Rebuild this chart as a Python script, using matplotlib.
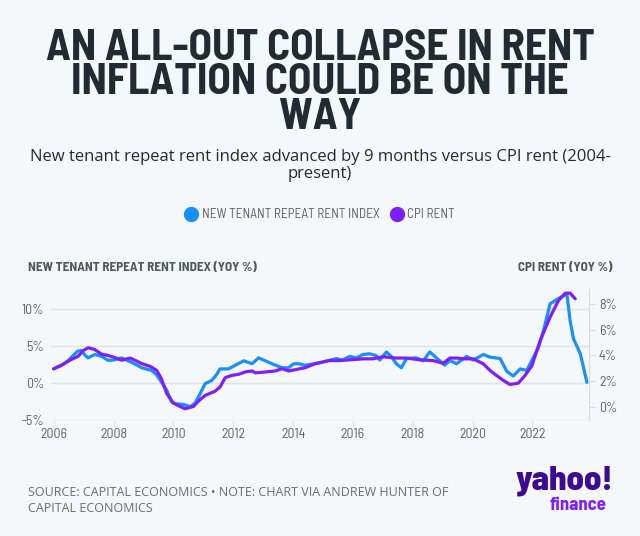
import matplotlib
matplotlib.use("Agg")
import matplotlib.pyplot as plt
from matplotlib.lines import Line2D

# new tenant repeat rent index, yoy % (left axis), advanced 9 months
ntrr_x = [2006.0, 2006.26, 2006.48, 2006.65, 2006.8, 2006.93, 2007.06, 2007.15, 2007.37, 2007.6,
          2007.82, 2008.0, 2008.27, 2008.6, 2008.94, 2009.27, 2009.44, 2009.6, 2009.78, 2009.94,
          2010.06, 2010.34, 2010.56, 2010.73, 2010.9, 2011.06, 2011.28, 2011.42, 2011.56, 2011.84,
          2012.07, 2012.35, 2012.63, 2012.85, 2013.07, 2013.35, 2013.63, 2013.85, 2014.02, 2014.2,
          2014.4, 2014.7, 2014.97, 2015.2, 2015.44, 2015.66, 2015.89, 2016.11, 2016.34, 2016.56,
          2016.78, 2016.9, 2017.12, 2017.28, 2017.45, 2017.62, 2017.79, 2018.12, 2018.35, 2018.57,
          2018.79, 2019.07, 2019.24, 2019.46, 2019.8, 2020.02, 2020.36, 2020.58, 2020.92, 2021.14,
          2021.36, 2021.59, 2021.81, 2021.98, 2022.2, 2022.37, 2022.59, 2022.82, 2023.04, 2023.15,
          2023.26, 2023.37, 2023.6, 2023.82]
ntrr_y = [1.9, 2.4, 3.0, 3.7, 4.3, 4.4, 3.7, 3.4, 3.85, 3.6,
          3.05, 3.1, 3.4, 2.8, 2.06, 1.7, 1.1, 0.13, -1.0, -2.55,
          -2.8, -2.9, -3.2, -2.7, -1.4, -0.1, 0.35, 1.0, 1.9, 1.9,
          2.4, 3.0, 2.6, 3.4, 3.0, 2.5, 2.06, 2.06, 2.6, 2.6,
          2.4, 2.6, 2.8, 3.05, 3.3, 3.1, 3.6, 3.4, 3.85, 3.95,
          3.7, 3.1, 4.2, 3.6, 2.6, 2.06, 3.3, 3.4, 3.0, 4.2,
          3.4, 2.4, 3.05, 2.6, 3.6, 3.1, 3.85, 3.5, 3.3, 1.6,
          0.94, 1.9, 1.7, 3.05, 4.8, 7.1, 10.7, 11.3, 11.8, 12.0,
          8.4, 6.0, 3.95, 0.1]

# CPI rent, yoy % (right axis)
cpi_x = [2006.0, 2006.26, 2006.54, 2006.82, 2006.98, 2007.15, 2007.37, 2007.6, 2007.82, 2008.04,
         2008.27, 2008.55, 2008.72, 2008.94, 2009.22, 2009.44, 2009.6, 2009.78, 2010.0, 2010.22,
         2010.39, 2010.67, 2010.84, 2011.06, 2011.4, 2011.56, 2011.73, 2011.96, 2012.18, 2012.4,
         2012.63, 2012.74, 2013.07, 2013.41, 2013.63, 2013.85, 2014.08, 2014.41, 2014.75, 2015.2,
         2015.55, 2015.89, 2016.34, 2016.67, 2017.0, 2017.45, 2017.79, 2018.23, 2018.68, 2019.02,
         2019.24, 2019.46, 2019.69, 2020.02, 2020.36, 2020.58, 2020.8, 2021.03, 2021.25, 2021.53,
         2021.75, 2021.98, 2022.26, 2022.59, 2022.87, 2023.1, 2023.26, 2023.43]
cpi_y = [2.97, 3.24, 3.63, 3.94, 4.36, 4.6, 4.46, 4.1, 4.0, 3.84,
         3.63, 3.8, 3.63, 3.37, 3.16, 2.85, 2.2, 1.04, 0.31, 0.05,
         -0.13, 0.05, 0.47, 0.9, 1.24, 1.56, 2.28, 2.46, 2.54, 2.72,
         2.8, 2.65, 2.72, 2.8, 2.98, 2.8, 2.9, 3.06, 3.37, 3.6,
         3.6, 3.66, 3.74, 3.74, 3.9, 3.8, 3.8, 3.66, 3.6, 3.4,
         3.8, 3.8, 3.74, 3.74, 3.35, 2.84, 2.45, 2.06, 1.75, 1.86,
         2.45, 3.2, 5.16, 6.97, 8.26, 8.83, 8.83, 8.39]

left_ticks = [-5, 0, 5, 10]
right_ticks = [0, 2, 4, 6, 8]
year_ticks = [2006, 2008, 2010, 2012, 2014, 2016, 2018, 2020, 2022]

bg = "#f5f8fa"
blue = "#1a90ff"
purple = "#7f1fff"
grey = "#5b636a"
dark = "#232a31"

cond = ["Barlow Semi Condensed", "Roboto", "DejaVu Sans"]
plain = ["Open Sans", "DejaVu Sans"]
plt.rcParams["font.family"] = cond

fig = plt.figure(figsize=(6.4, 5.36), dpi=100, facecolor=bg)

# titles
fig.text(0.5, 1 - 83/536, "AN ALL-OUT COLLAPSE IN RENT\nINFLATION COULD BE ON THE\nWAY",
         ha="center", va="center", fontsize=31, fontweight="bold", color=dark, linespacing=0.86)
fig.text(0.5, 1 - 165.5/536,
         "New tenant repeat rent index advanced by 9 months versus CPI rent (2004-\npresent)",
         ha="center", va="center", fontsize=12, color=dark, family=plain, linespacing=1.15)

# axes
ax = fig.add_axes([51/640, 116/536, 538.3/640, 131/536])
ax.set_facecolor(bg)
ax.plot(ntrr_x, ntrr_y, color=blue, lw=2.3, solid_capstyle="round", zorder=3)
ax.set_xlim(2005.91, 2023.9)
ax.set_ylim(-5, 12.7)
ax.set_yticks(left_ticks)
ax.set_yticklabels([f"{t}%" for t in left_ticks])
ax.set_xticks(year_ticks)
ax.grid(axis="y", color="#dfe3e6", lw=1)
for s in ["left", "top", "right", "bottom"]:
    ax.spines[s].set_visible(False)
ax.tick_params(axis="y", length=0, labelsize=10, labelcolor=grey, pad=5)
ax.tick_params(axis="x", length=5, color="#dfe3e6", labelsize=10, labelcolor=grey, pad=1)

ax2 = ax.twinx()
ax2.plot(cpi_x, cpi_y, color=purple, lw=2.3, solid_capstyle="round", zorder=4)
ax2.set_ylim(-1.0, 9.15)
ax2.set_yticks(right_ticks)
ax2.set_yticklabels([f"{t}%" for t in right_ticks])
for s in ["left", "top", "bottom"]:
    ax2.spines[s].set_visible(False)
ax2.spines["right"].set_color("#d8dcdf")
ax2.tick_params(axis="y", length=4, color="#d8dcdf", labelsize=10, labelcolor=grey, pad=3)

# legend
handles = [Line2D([], [], marker="o", ls="", ms=10, color=blue),
           Line2D([], [], marker="o", ls="", ms=10, color=purple)]
fig.legend(handles, ["NEW TENANT REPEAT RENT INDEX", "CPI RENT"], loc="center",
           bbox_to_anchor=(0.5, 1 - 215/536), ncol=2, frameon=False, fontsize=9.5,
           labelcolor=grey, handletextpad=0.3, columnspacing=0.8, handlelength=1.0)

# axis titles
fig.text(28/640, 1 - 268/536, "NEW TENANT REPEAT RENT INDEX (YOY %)", ha="left", va="center",
         fontsize=9.5, fontweight="bold", color="#50575d")
fig.text(612/640, 1 - 268/536, "CPI RENT (YOY %)", ha="right", va="center",
         fontsize=9.5, fontweight="bold", color="#50575d")

# footer
fig.text(28/640, 1 - 500/536, "SOURCE: CAPITAL ECONOMICS \u2022 NOTE: CHART VIA ANDREW HUNTER OF\nCAPITAL ECONOMICS",
         ha="left", va="center", fontsize=9, color="#656d75", family=plain, linespacing=1.3)
fig.text(613/640, 1 - 481/536, "yahoo!", ha="right", va="center", fontsize=25,
         fontweight="heavy", color="#3d0a91")
fig.text(607/640, 1 - 506/536, "finance", ha="right", va="center", fontsize=13.5,
         fontweight="bold", color="#7b1fff")

fig.savefig("out.png", dpi=100, facecolor=bg)
